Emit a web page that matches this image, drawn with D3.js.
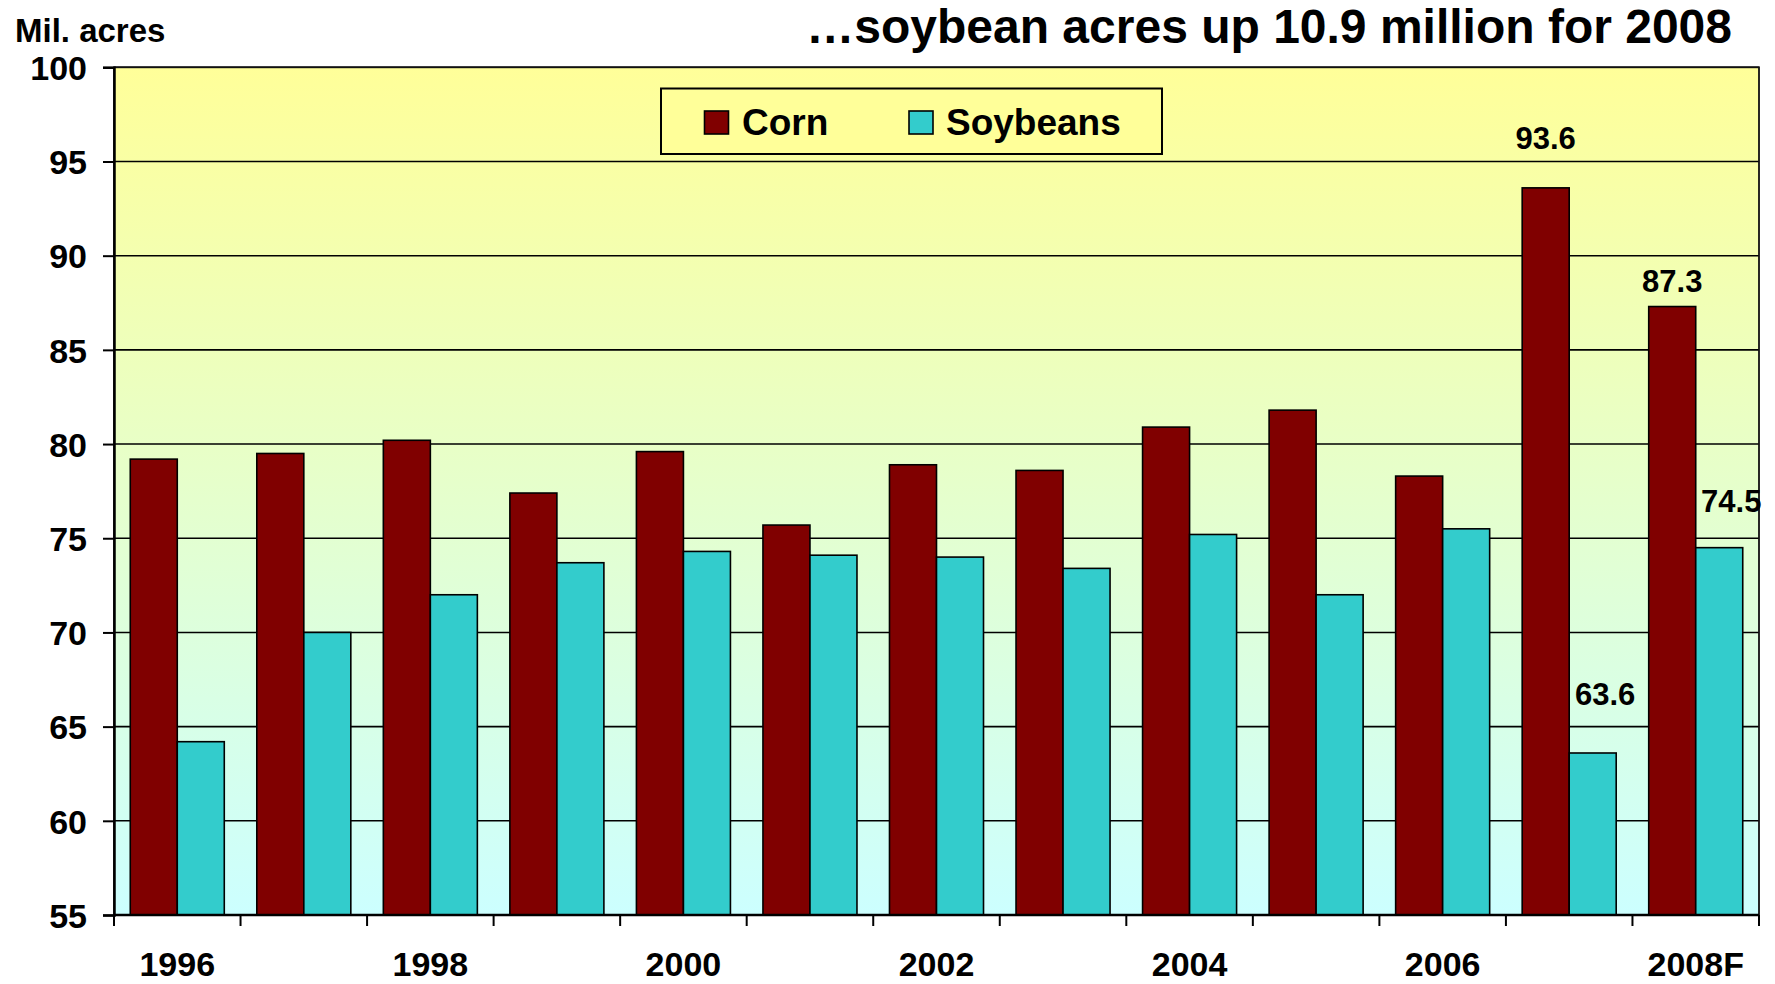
<!DOCTYPE html>
<html>
<head>
<meta charset="utf-8">
<script src="https://cdn.jsdelivr.net/npm/d3@7/dist/d3.min.js"></script>
<style>
  html, body { margin: 0; padding: 0; background: #ffffff; }
  svg { display: block; }
  text { font-family: "Liberation Sans", Arial, sans-serif; font-weight: bold; fill: #000; }
</style>
</head>
<body>
<svg id="chart" width="1775" height="984"></svg>
<script>
// ---- data ----
const years = ["1996","1997","1998","1999","2000","2001","2002","2003","2004","2005","2006","2007","2008F"];
const corn = [79.2, 79.5, 80.2, 77.4, 79.6, 75.7, 78.9, 78.6, 80.9, 81.8, 78.3, 93.6, 87.3];
const soybeans = [64.2, 70.0, 72.0, 73.7, 74.3, 74.1, 74.0, 73.4, 75.2, 72.0, 75.5, 63.6, 74.5];
const seriesNames = ["Corn", "Soybeans"];
const yTicks = [55, 60, 65, 70, 75, 80, 85, 90, 95, 100];
const xTickLabels = ["1996", "1998", "2000", "2002", "2004", "2006", "2008F"];
const labeledYears = ["2007", "2008F"];
const titleText = "\u2026soybean acres up 10.9 million for 2008";
const yAxisTitle = "Mil. acres";

// ---- layout / style ----
const colors = { Corn: "#800000", Soybeans: "#33CCCC" };
const plot = { left: 114, right: 1759, top: 67.3, bottom: 915 };
// manual label placement (px above bar top, px shift right) as in the reference
const labelPlacement = {
  "Corn|2007": { up: 39, dx: 0 },
  "Corn|2008F": { up: 14.5, dx: 0 },
  "Soybeans|2007": { up: 47.5, dx: 12.5 },
  "Soybeans|2008F": { up: 36, dx: 12 }
};

const svg = d3.select("#chart");

const rows = years.map((y, i) => ({ year: y, Corn: corn[i], Soybeans: soybeans[i] }));

const x0 = d3.scaleBand().domain(years).range([plot.left, plot.right])
  .paddingInner(0.257).paddingOuter(0.1285);
const x1 = d3.scaleBand().domain(seriesNames).range([0, x0.bandwidth()]).padding(0);
const y = d3.scaleLinear().domain([55, 100]).range([plot.bottom, plot.top]);

// background gradient
const defs = svg.append("defs");
const grad = defs.append("linearGradient").attr("id", "bg").attr("x1", 0).attr("y1", 0).attr("x2", 0).attr("y2", 1);
grad.append("stop").attr("offset", "0%").attr("stop-color", "#FFFF99");
grad.append("stop").attr("offset", "100%").attr("stop-color", "#CCFFFF");

svg.append("rect")
  .attr("x", plot.left).attr("y", plot.top)
  .attr("width", plot.right - plot.left).attr("height", plot.bottom - plot.top)
  .attr("fill", "url(#bg)");

// gridlines
svg.append("g").selectAll("line").data(yTicks).join("line")
  .attr("x1", plot.left).attr("x2", plot.right)
  .attr("y1", d => y(d)).attr("y2", d => y(d))
  .attr("stroke", "#000").attr("stroke-width", 1.6);

// bars
const groups = svg.append("g").selectAll("g").data(rows).join("g")
  .attr("transform", d => `translate(${x0(d.year)},0)`);
groups.selectAll("rect").data(d => seriesNames.map(s => ({ key: s, year: d.year, value: d[s] }))).join("rect")
  .attr("x", d => x1(d.key))
  .attr("y", d => y(d.value))
  .attr("width", x1.bandwidth())
  .attr("height", d => y(55) - y(d.value))
  .attr("fill", d => colors[d.key])
  .attr("stroke", "#000").attr("stroke-width", 1.6);

// plot border (top/right)
svg.append("rect")
  .attr("x", plot.left).attr("y", plot.top)
  .attr("width", plot.right - plot.left).attr("height", plot.bottom - plot.top)
  .attr("fill", "none").attr("stroke", "#111").attr("stroke-width", 1.8);

// y axis
const yAxis = d3.axisLeft(y).tickValues(yTicks).tickSize(11).tickPadding(16).tickFormat(d3.format("d"));
const gy = svg.append("g").attr("transform", `translate(${plot.left},0)`).call(yAxis);
gy.select(".domain").attr("stroke", "#000").attr("stroke-width", 2.5);
gy.selectAll(".tick line").attr("stroke", "#000").attr("stroke-width", 2);
gy.selectAll(".tick text").style("font-size", "34px").style("font-family", "'Liberation Sans', Arial, sans-serif").style("font-weight", "bold").attr("fill", "#000").attr("dy", "0.36em");

// x axis line and boundary ticks
const boundaries = years.map(yr => x0(yr) - x0.step() * x0.paddingInner() / 2).concat([plot.right]);
svg.append("line").attr("x1", plot.left).attr("x2", plot.right).attr("y1", plot.bottom).attr("y2", plot.bottom)
  .attr("stroke", "#000").attr("stroke-width", 2.5);
svg.append("g").selectAll("line").data(boundaries).join("line")
  .attr("x1", d => d).attr("x2", d => d)
  .attr("y1", plot.bottom).attr("y2", plot.bottom + 11)
  .attr("stroke", "#000").attr("stroke-width", 2);

// x labels
const xAxis = d3.axisBottom(x0).tickValues(xTickLabels).tickSize(0).tickPadding(37);
const gx = svg.append("g").attr("transform", `translate(0,${plot.bottom})`).call(xAxis);
gx.select(".domain").remove();
gx.selectAll(".tick text").style("font-size", "34px").style("font-family", "'Liberation Sans', Arial, sans-serif").style("font-weight", "bold").attr("fill", "#000");

// data labels
const labelData = [];
rows.forEach(r => {
  if (labeledYears.includes(r.year)) {
    seriesNames.forEach(s => labelData.push({ key: s, year: r.year, value: r[s] }));
  }
});
svg.append("g").selectAll("text").data(labelData).join("text")
  .attr("x", d => x0(d.year) + x1(d.key) + x1.bandwidth() / 2 + labelPlacement[d.key + "|" + d.year].dx)
  .attr("y", d => y(d.value) - labelPlacement[d.key + "|" + d.year].up)
  .attr("text-anchor", "middle")
  .style("font-size", "31px")
  .text(d => d3.format(".1f")(d.value));

// legend
const lg = svg.append("g");
lg.append("rect").attr("x", 661).attr("y", 88.5).attr("width", 501).attr("height", 65.5)
  .attr("fill", "#FFFF99").attr("stroke", "#000").attr("stroke-width", 2);
const legendItems = [
  { key: "Corn", sx: 704.5, tx: 742 },
  { key: "Soybeans", sx: 909, tx: 946 }
];
legendItems.forEach(it => {
  lg.append("rect").attr("x", it.sx).attr("y", 111).attr("width", 24).attr("height", 23)
    .attr("fill", colors[it.key]).attr("stroke", "#000").attr("stroke-width", 1.6);
  lg.append("text").attr("x", it.tx).attr("y", 135).style("font-size", "37px").text(it.key);
});

// titles
svg.append("text").attr("x", 15).attr("y", 42).style("font-size", "33px").text(yAxisTitle);
svg.append("text").attr("x", 1732).attr("y", 43).attr("text-anchor", "end").style("font-size", "48px").text(titleText);
</script>
</body>
</html>
